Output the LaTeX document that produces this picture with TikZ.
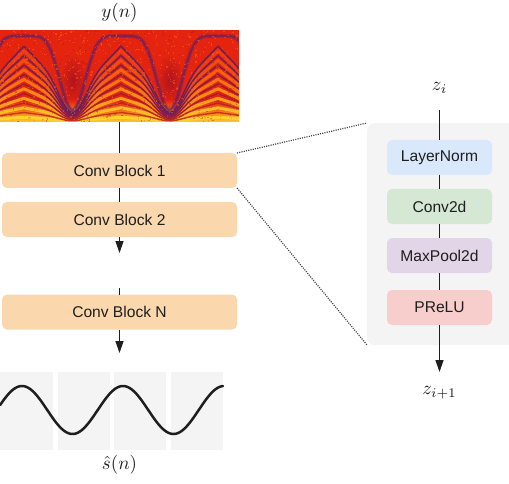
\documentclass[tikz,border=0pt]{standalone}
\usepackage{fontspec}
\newfontfamily\boxfont{Liberation Sans}
\usetikzlibrary{arrows.meta}
\definecolor{cbfill}{HTML}{FAD7AC}
\definecolor{lnfill}{HTML}{DAE8FC}
\definecolor{cvfill}{HTML}{D5E8D4}
\definecolor{mpfill}{HTML}{E1D5E7}
\definecolor{prfill}{HTML}{F8CECC}
\definecolor{panelfill}{HTML}{F4F4F4}
\definecolor{specred}{HTML}{E4240E}
\definecolor{specdark}{HTML}{B01420}
\definecolor{specyellow}{HTML}{FFCC2C}
\definecolor{specorange}{HTML}{FF7A12}
\definecolor{specspeck}{HTML}{C0141A}
\definecolor{envc}{HTML}{62206A}
\definecolor{inkc}{HTML}{1E1E1E}
\newcommand{\bigmath}[1]{\scalebox{1.9}{$#1$}}
\begin{document}
\begin{tikzpicture}[x=1pt,y=-1pt,
  declare function={sp(\t)=abs(sin(1.8557*(\t-24)));
                    cs(\t)=cos(1.8557*(\t-24))*cos(1.8557*(\t-24));
                    F(\t)=1-(1-cs(\t))*(1-cs(\t))*(1-cs(\t));
                    H(\t)=1.2+8.3*(0.5*(1-sp(\t))+0.5*F(\t));
                    E(\t)=12+74*F(\t);},
  txt/.style={font=\boxfont\fontsize{15.6}{18}\selectfont, text=inkc},
  cbox/.style={txt, rounded corners=5pt, fill=cbfill, minimum width=235pt, minimum height=35pt, inner sep=0pt, outer sep=0pt},
  ibox/.style={txt, rounded corners=5pt, minimum width=105pt, minimum height=35pt, inner sep=0pt, outer sep=0pt},
  mlabel/.style={inner sep=0pt, text=inkc},
  conn/.style={line width=1.3pt, draw=inkc},
  arr/.style={conn, -{Triangle[length=12pt,width=8pt]}},
  zoomline/.style={dash pattern=on 1.1pt off 1.2pt, line width=1.2pt, draw=black!72}]
\useasboundingbox (0,0) rectangle (509,484);
\clip (0,0) rectangle (509,484);

% ---------- spectrogram ----------
\node[minimum width=239pt, minimum height=92pt, inner sep=0pt, outer sep=0pt, anchor=north west] (spec) at (0,30) {};
\begin{scope}
  \clip (spec.north west) rectangle (spec.south east);
  \fill[specred] (spec.north west) rectangle (spec.south east);
  \shade[inner color=specdark, outer color=specred] (73,80) ellipse (14pt and 26pt);
  \shade[inner color=specdark, outer color=specred] (170,80) ellipse (14pt and 26pt);
  \shade[top color=specred, bottom color=specyellow] (0,100) rectangle (239,122.5);
  \foreach \k/\bc in {1/FFD232,2/FFBC26,3/FFA01C,4/FF8A16,5/FF7412,6/F86010,7/F04E10,8/EC3E10} {
    \definecolor{bandc}{HTML}{\bc}
    \draw[bandc, line width=3pt] plot[domain=-3:242, samples=260] (\x, {122-(\k-0.5)*H(\x)});
  }
  \foreach \k/\dc in {1/C8341C,2/B82628,3/A41E34,4/921C40,5/841C4A,6/781E54,7/70205A,8/66205E} {
    \definecolor{darkc}{HTML}{\dc}
    \draw[darkc, line width=1.4pt] plot[domain=-3:242, samples=260] (\x, {122-\k*H(\x)});
  }
  \draw[envc, line width=4pt, opacity=0.35] plot[domain=-3:242, samples=260] (\x, {122-E(\x)});
  \draw[envc, line width=2pt, opacity=0.6] plot[domain=-3:242, samples=260] (\x, {122-E(\x)});
  \pgfmathsetseed{7}
  \foreach \i in {1,...,700} {
    \fill[specorange, opacity=0.4] ({239*rnd},{30+92*rnd}) rectangle ++(1.3,1.3);
  }
  \foreach \i in {1,...,400} {
    \fill[specspeck, opacity=0.4] ({239*rnd},{30+92*rnd}) rectangle ++(1.3,1.3);
  }
\end{scope}

\node[mlabel] (yn) at (119.5,13) {\bigmath{y(n)}};

% ---------- left column ----------
\node[cbox] (cb1) at (119.5,170.5) {Conv Block 1};
\node[cbox] (cb2) at (119.5,219.5) {Conv Block 2};
\node[cbox] (cbN) at (119.5,312) {Conv Block N};
\coordinate (gapA) at (119.5,253);
\coordinate (gapB) at (119.5,288);
\coordinate (wtop) at (119.5,353);

\draw[conn] (spec.south) -- (cb1.north);
\draw[conn] (cb1.south) -- (cb2.north);
\draw[arr] (cb2.south) -- (gapA);
\draw[conn] (gapB) -- (cbN.north);
\draw[arr] (cbN.south) -- (wtop);

% ---------- waveform ----------
\fill[panelfill] (0,372) rectangle (53,450);
\fill[panelfill] (58,372) rectangle (110,450);
\fill[panelfill] (114,372) rectangle (166,450);
\fill[panelfill] (171,372) rectangle (223,450);
\draw[line width=2.5pt, inkc, line cap=round] plot[domain=0:223, samples=150, smooth] (\x, {410-24*cos(3.5644*(\x-22))});
\node[mlabel] (sn) at (119.5,465) {\bigmath{\hat{s}(n)}};

% ---------- right detail ----------
\node[fill=panelfill, rounded corners=8pt, minimum width=150pt, minimum height=222pt, inner sep=0pt, outer sep=0pt, anchor=north west] (panel) at (367,123) {};
\node[mlabel] (zi) at (439.5,88) {\bigmath{z_i}};
\node[mlabel] (zj) at (439.5,393) {\bigmath{z_{i+1}}};
\coordinate (zstart) at (439.5,110);
\coordinate (zend) at (439.5,372);
\node[ibox, fill=lnfill] (ln) at (439.5,157.5) {LayerNorm};
\node[ibox, fill=cvfill] (cv) at (439.5,206.5) {Conv2d};
\node[ibox, fill=mpfill] (mp) at (439.5,255.5) {MaxPool2d};
\node[ibox, fill=prfill] (pr) at (439.5,307.5) {PReLU};
\draw[conn] (zstart) -- (ln.north);
\draw[conn] (ln.south) -- (cv.north);
\draw[conn] (cv.south) -- (mp.north);
\draw[conn] (mp.south) -- (pr.north);
\draw[arr] (pr.south) -- (zend);

\draw[zoomline] (cb1.north east) -- (panel.north west);
\draw[zoomline] (cb1.south east) -- (panel.south west);
\end{tikzpicture}
\end{document}
